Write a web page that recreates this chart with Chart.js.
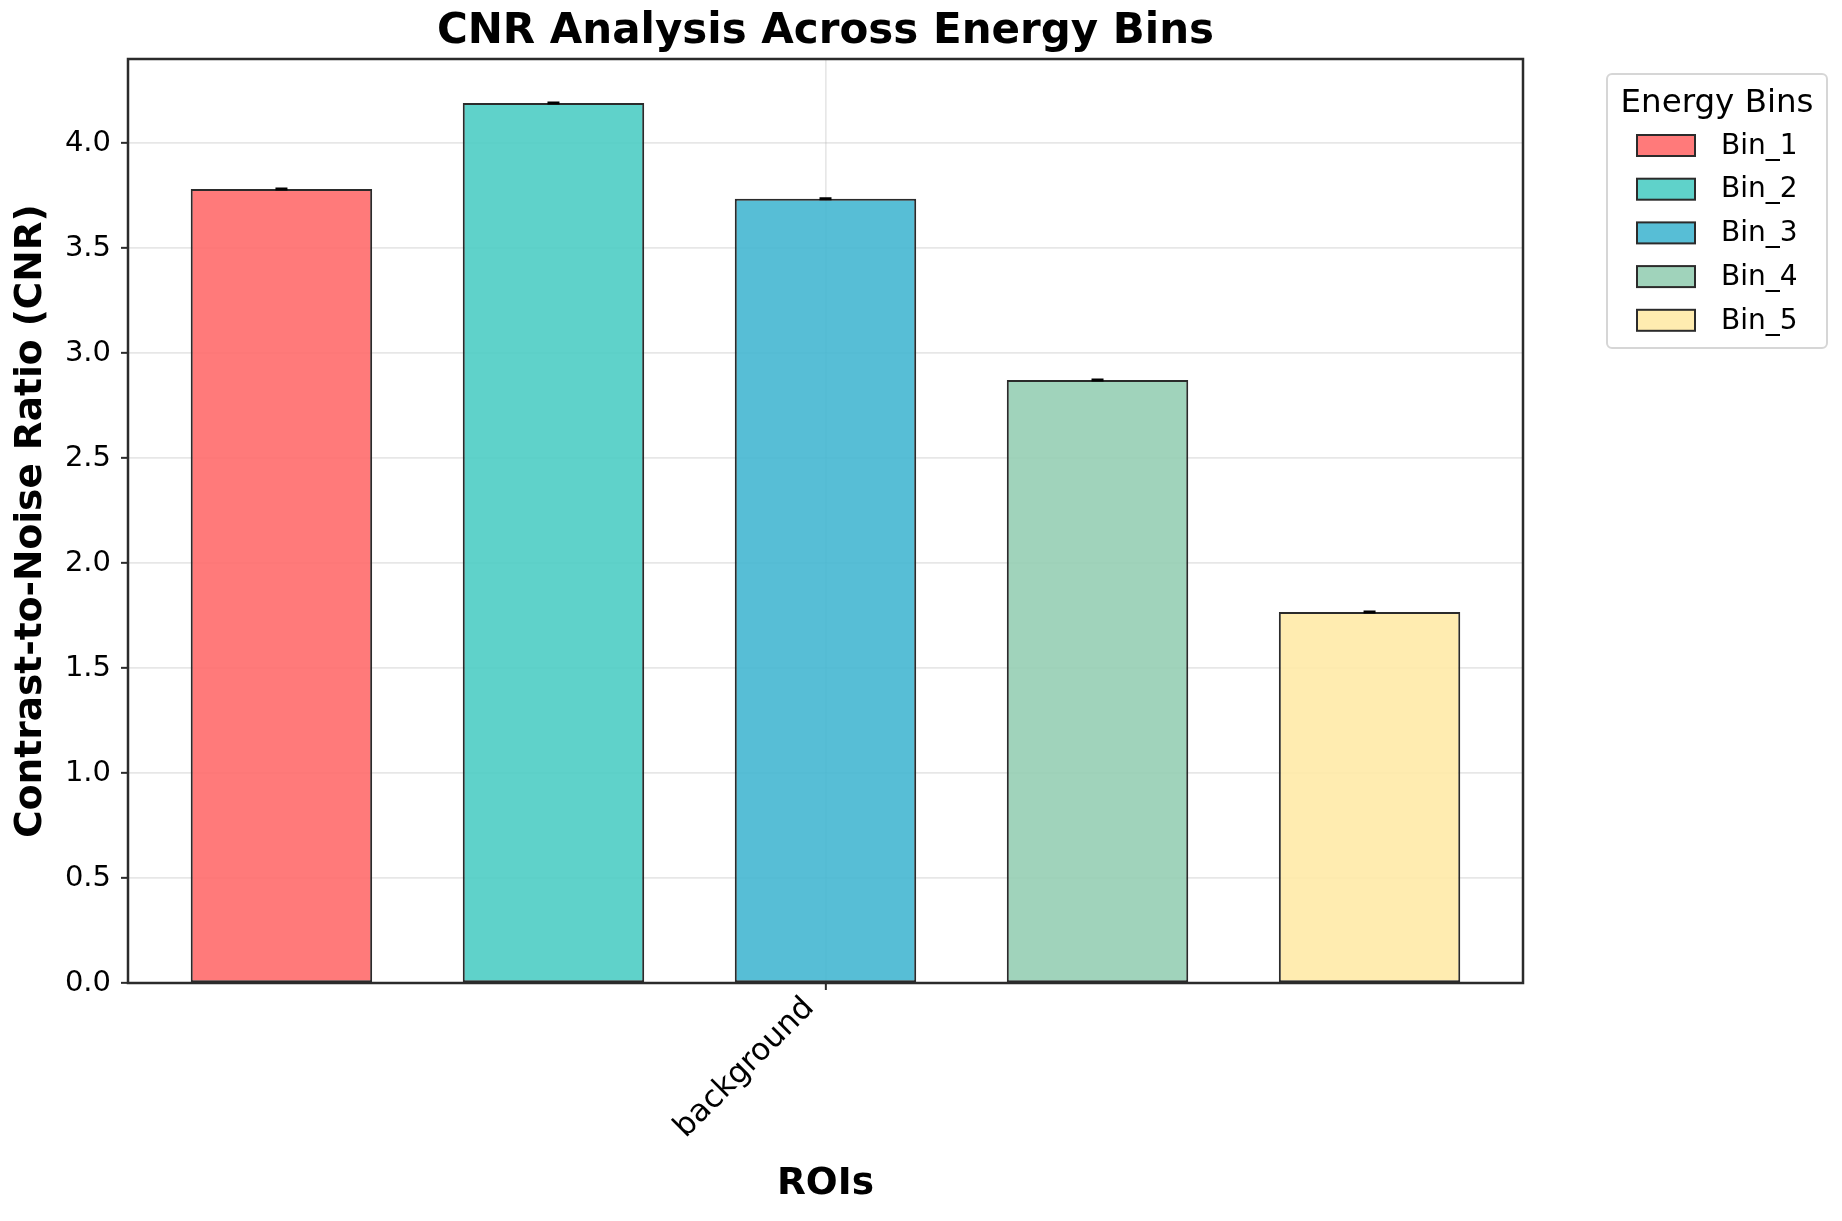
<!DOCTYPE html>
<html>
<head>
<meta charset="utf-8">
<script src="https://cdn.jsdelivr.net/npm/chart.js@4.4.1/dist/chart.umd.min.js"></script>
<style>
  html, body { margin: 0; padding: 0; background: #fff; }
  #wrap { width: 1842px; height: 1221px; }
</style>
</head>
<body>
<div id="wrap"><canvas id="cnrChart" width="1842" height="1221"></canvas></div>
<script>
// Data
const rois = ['background'];
const binNames = ['Bin_1', 'Bin_2', 'Bin_3', 'Bin_4', 'Bin_5'];
const cnrValues = [3.781, 4.19, 3.735, 2.871, 1.767];
const cnrErrors = [0, 0, 0, 0, 0];
const binColors = ['rgba(255,107,107,0.9)', 'rgba(78,205,196,0.9)', 'rgba(69,183,209,0.9)', 'rgba(150,206,180,0.9)', 'rgba(255,234,167,0.9)'];
const yTicks = [0, 0.5, 1.0, 1.5, 2.0, 2.5, 3.0, 3.5, 4.0];
const chartTitle = 'CNR Analysis Across Energy Bins';

const FONT = "'DejaVu Sans', Arial, sans-serif";
const EDGE = '#2b2b2b';

// one dataset per energy bin
const datasets = binNames.map((name, i) => ({
  label: name,
  data: [cnrValues[i]],
  backgroundColor: binColors[i],
  borderColor: EDGE,
  borderWidth: 2,
  borderSkipped: false
}));

// frame round the plot area, error caps and the title (centred on the axes)
const framePlugin = {
  id: 'frame',
  afterDraw(chart) {
    const { ctx, chartArea: a } = chart;
    const y = chart.scales.y;
    ctx.save();
    ctx.strokeStyle = '#000';
    ctx.lineWidth = 3;
    chart.data.datasets.forEach((ds, i) => {
      const bar = chart.getDatasetMeta(i).data[0];
      const err = cnrErrors[i];
      const top = y.getPixelForValue(cnrValues[i] + err);
      const bot = y.getPixelForValue(cnrValues[i] - err);
      ctx.beginPath();
      ctx.moveTo(bar.x, top); ctx.lineTo(bar.x, bot);
      ctx.moveTo(bar.x - 6, top); ctx.lineTo(bar.x + 6, top);
      ctx.moveTo(bar.x - 6, bot); ctx.lineTo(bar.x + 6, bot);
      ctx.stroke();
    });
    ctx.strokeStyle = EDGE;
    ctx.lineWidth = 2.5;
    ctx.strokeRect(a.left, a.top, a.right - a.left, a.bottom - a.top);

    ctx.fillStyle = '#000';
    ctx.textAlign = 'center';
    ctx.textBaseline = 'middle';
    ctx.font = 'bold 42px ' + FONT;
    ctx.fillText(chartTitle, (a.left + a.right) / 2, 32);
    ctx.restore();
  }
};

// legend box outside the plot, top right
const legendPlugin = {
  id: 'binLegend',
  afterDraw(chart) {
    const ctx = chart.ctx;
    const x0 = 1607, y0 = 74, w = 220, h = 274;
    ctx.save();
    ctx.beginPath();
    ctx.roundRect(x0, y0, w, h, 5);
    ctx.fillStyle = '#fff';
    ctx.fill();
    ctx.strokeStyle = '#d6d6d6';
    ctx.lineWidth = 2;
    ctx.stroke();
    ctx.fillStyle = '#000';
    ctx.textAlign = 'center';
    ctx.textBaseline = 'middle';
    ctx.font = '32.5px ' + FONT;
    ctx.fillText('Energy Bins', x0 + 110, 104);
    ctx.textAlign = 'left';
    ctx.font = '28px ' + FONT;
    chart.data.datasets.forEach((ds, i) => {
      const cy = 145.5 + i * 43.7;
      ctx.fillStyle = ds.backgroundColor;
      ctx.fillRect(1637, cy - 10.5, 58, 21);
      ctx.strokeStyle = EDGE;
      ctx.lineWidth = 2;
      ctx.strokeRect(1637, cy - 10.5, 58, 21);
      ctx.fillStyle = '#000';
      ctx.fillText(ds.label, 1721, cy + 1);
    });
    ctx.restore();
  }
};

new Chart(document.getElementById('cnrChart').getContext('2d'), {
  type: 'bar',
  data: { labels: rois, datasets: datasets },
  options: {
    responsive: false,
    animation: false,
    devicePixelRatio: 1,
    layout: { padding: { top: 59, left: 0, right: 319, bottom: 0 } },
    datasets: { bar: { categoryPercentage: 0.975, barPercentage: 0.667 } },
    plugins: {
      legend: { display: false },
      tooltip: { enabled: false },
      title: { display: false }
    },
    scales: {
      x: {
        offset: true,
        z: 1,
        border: { display: false },
        grid: { offset: false, color: 'rgba(176,176,176,0.3)', lineWidth: 1.7, tickColor: EDGE, tickLength: 7, tickWidth: 2 },
        ticks: { color: '#000', font: { family: FONT, size: 31 }, minRotation: 45, maxRotation: 45, autoSkip: false, padding: 0, labelOffset: -16 },
        title: { display: true, text: 'ROIs', color: '#000', font: { family: FONT, size: 37.5, weight: 'bold' }, padding: { top: 0, bottom: 14 } },
        afterFit(scale) { scale.height = 238; }
      },
      y: {
        min: 0,
        max: 4.4,
        z: 1,
        border: { display: false },
        grid: { color: 'rgba(176,176,176,0.3)', lineWidth: 1.7, tickColor: EDGE, tickLength: 7, tickWidth: 2 },
        ticks: { color: '#000', font: { family: FONT, size: 29 }, padding: 10, callback: v => v.toFixed(1) },
        title: { display: true, text: 'Contrast-to-Noise Ratio (CNR)', color: '#000', font: { family: FONT, size: 37.5, weight: 'bold' }, padding: { top: 9, bottom: 0 } },
        afterBuildTicks(scale) { scale.ticks = yTicks.map(v => ({ value: v })); },
        afterFit(scale) { scale.width = 128; }
      }
    }
  },
  plugins: [framePlugin, legendPlugin]
});
</script>
</body>
</html>
